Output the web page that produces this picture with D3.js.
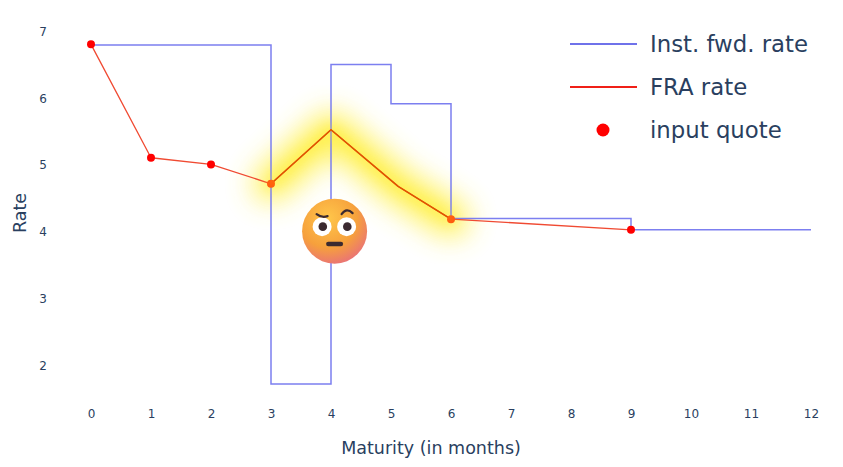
<!DOCTYPE html>
<html>
<head>
<meta charset="utf-8">
<script src="https://cdn.jsdelivr.net/npm/d3@7"></script>
<style>
  html, body { margin: 0; padding: 0; background: #fff; }
  svg { display: block; font-family: "DejaVu Sans", Verdana, sans-serif; }
</style>
</head>
<body>
<svg id="chart" width="843" height="467"></svg>
<script>
// ---- data ----
const fwdMonths = [0, 3, 4, 5, 6, 9, 12];
const fwdRates  = [6.80, 1.72, 6.51, 5.92, 4.20, 4.03, 4.03];

const fraMonths = [0, 1, 2, 3, 4, 5.12, 6, 9];
const fraRates  = [6.81, 5.11, 5.01, 4.72, 5.53, 4.68, 4.19, 4.03];

const quoteMonths = [0, 1, 2, 3, 6, 9];
const quoteRates  = [6.81, 5.11, 5.01, 4.72, 4.19, 4.03];

const highlightFrom = 3, highlightTo = 6;   // glowing FRA stretch
const emojiAt = [4.06, 4.01];               // decoration position (months, rate)

const xTicks = [0,1,2,3,4,5,6,7,8,9,10,11,12];
const yTicks = [2,3,4,5,6,7];
const legendLabels = ["Inst. fwd. rate", "FRA rate", "input quote"];

// ---- layout ----
const svg = d3.select("#chart");
const x = d3.scaleLinear().domain([0, 12]).range([91, 811]);
const y = d3.scaleLinear().domain([2, 7]).range([365.2, 31.7]);

const textCol = "#2a3f5f";
const blue = "#7c7ff0";
const red = "#f04a32";

const defs = svg.append("defs");
defs.append("filter").attr("id", "glow")
  .attr("x", "-50%").attr("y", "-50%").attr("width", "200%").attr("height", "200%")
  .append("feGaussianBlur").attr("stdDeviation", 14);
defs.append("filter").attr("id", "glow2")
  .attr("x", "-50%").attr("y", "-50%").attr("width", "200%").attr("height", "200%")
  .append("feGaussianBlur").attr("stdDeviation", 6);

const fg = defs.append("radialGradient").attr("id", "face")
  .attr("cx", "40%").attr("cy", "30%").attr("r", "75%");
fg.append("stop").attr("offset", "0%").attr("stop-color", "#ffc64a");
fg.append("stop").attr("offset", "60%").attr("stop-color", "#f6a03c");
fg.append("stop").attr("offset", "100%").attr("stop-color", "#e9707a");

// axes
const xAxis = d3.axisBottom(x).tickValues(xTicks).tickSize(0).tickPadding(0).tickFormat(d3.format("d"));
const gx = svg.append("g").attr("transform", "translate(0,409)").call(xAxis);
gx.select(".domain").remove();
gx.selectAll("text").attr("fill", textCol).attr("font-size", 12)
  .attr("font-family", "DejaVu Sans, sans-serif").attr("dy", "0.71em");

const yAxis = d3.axisLeft(y).tickValues(yTicks).tickSize(0).tickPadding(0).tickFormat(d3.format("d"));
const gy = svg.append("g").attr("transform", "translate(47,0)").call(yAxis);
gy.select(".domain").remove();
gy.selectAll("text").attr("fill", textCol).attr("font-size", 12)
  .attr("font-family", "DejaVu Sans, sans-serif");

svg.append("text").attr("x", 431).attr("y", 448).attr("dy", "0.35em")
  .attr("text-anchor", "middle").attr("fill", textCol).attr("font-size", 17.5)
  .text("Maturity (in months)");
svg.append("text").attr("transform", "translate(20,213) rotate(-90)").attr("dy", "0.35em")
  .attr("text-anchor", "middle").attr("fill", textCol).attr("font-size", 17.5)
  .text("Rate");

// glow behind
const fraPts = fraMonths.map((m, i) => [m, fraRates[i]]);
const hiPts = fraPts.filter(p => p[0] >= highlightFrom && p[0] <= highlightTo);
const lineGen = d3.line().x(d => x(d[0])).y(d => y(d[1]));

svg.append("path").attr("d", lineGen(hiPts))
  .attr("fill", "none").attr("stroke", "#fff04a").attr("stroke-width", 36)
  .attr("stroke-linecap", "round").attr("stroke-linejoin", "round")
  .attr("opacity", 0.9).attr("filter", "url(#glow)");

// inst fwd rate (step)
const fwdPts = fwdMonths.map((m, i) => [m, fwdRates[i]]);
svg.append("path")
  .attr("d", d3.line().curve(d3.curveStepAfter).x(d => x(d[0])).y(d => y(d[1]))(fwdPts))
  .attr("fill", "none").attr("stroke", blue).attr("stroke-width", 1.5);

// FRA rate
svg.append("path").attr("d", lineGen(fraPts))
  .attr("fill", "none").attr("stroke", red).attr("stroke-width", 1.3)
  .attr("stroke-linejoin", "round");
svg.append("path").attr("d", lineGen(hiPts))
  .attr("fill", "none").attr("stroke", "#d83200").attr("stroke-width", 1.6)
  .attr("stroke-linejoin", "round");

// quotes
svg.append("g").selectAll("circle").data(quoteMonths.map((m, i) => [m, quoteRates[i]]))
  .join("circle")
  .attr("cx", d => x(d[0])).attr("cy", d => y(d[1])).attr("r", 4)
  .attr("fill", d => (d[0] >= highlightFrom && d[0] <= highlightTo) ? "#ff4a10" : "#ff0000");

// glow overlay (tint on top)
svg.append("path").attr("d", lineGen(hiPts))
  .attr("fill", "none").attr("stroke", "#ffe800").attr("stroke-width", 10)
  .attr("stroke-linecap", "round").attr("stroke-linejoin", "round")
  .attr("opacity", 0.3).attr("filter", "url(#glow2)");

// emoji decoration (face with raised eyebrow)
const ex = x(emojiAt[0]), ey = y(emojiAt[1]);
const em = svg.append("g").attr("transform", `translate(${ex},${ey})`);
em.append("circle").attr("r", 32.5).attr("fill", "url(#face)");
[[-12.5, -4.5], [12, -4.5]].forEach(([dx, dy]) => {
  em.append("circle").attr("cx", dx).attr("cy", dy).attr("r", 9.5).attr("fill", "#fff");
  em.append("circle").attr("cx", dx + 0.7).attr("cy", dy).attr("r", 4.3).attr("fill", "#3b2a30");
});
em.append("rect").attr("x", -8.5).attr("y", 10.5).attr("width", 17).attr("height", 4.5)
  .attr("rx", 2.2).attr("fill", "#3b2a30");
em.append("path").attr("d", "M-18,-17 Q-13,-13 -7,-15")
  .attr("fill", "none").attr("stroke", "#3b2a30").attr("stroke-width", 2.2).attr("stroke-linecap", "round");
em.append("path").attr("d", "M7,-17 Q12,-24 18,-18")
  .attr("fill", "none").attr("stroke", "#3b2a30").attr("stroke-width", 2.2).attr("stroke-linecap", "round");

// legend
const lg = svg.append("g");
const legY = [44, 87, 130];
lg.append("line").attr("x1", 570).attr("x2", 637).attr("y1", legY[0]).attr("y2", legY[0])
  .attr("stroke", "#6f72ea").attr("stroke-width", 2);
lg.append("line").attr("x1", 570).attr("x2", 637).attr("y1", legY[1]).attr("y2", legY[1])
  .attr("stroke", "#f02018").attr("stroke-width", 2);
lg.append("circle").attr("cx", 603).attr("cy", legY[2]).attr("r", 6.5).attr("fill", "#ff0000");
legendLabels.forEach((t, i) => {
  lg.append("text").attr("x", 650).attr("y", legY[i]).attr("dy", "0.35em")
    .attr("fill", textCol).attr("font-size", 22.8).text(t);
});
</script>
</body>
</html>
